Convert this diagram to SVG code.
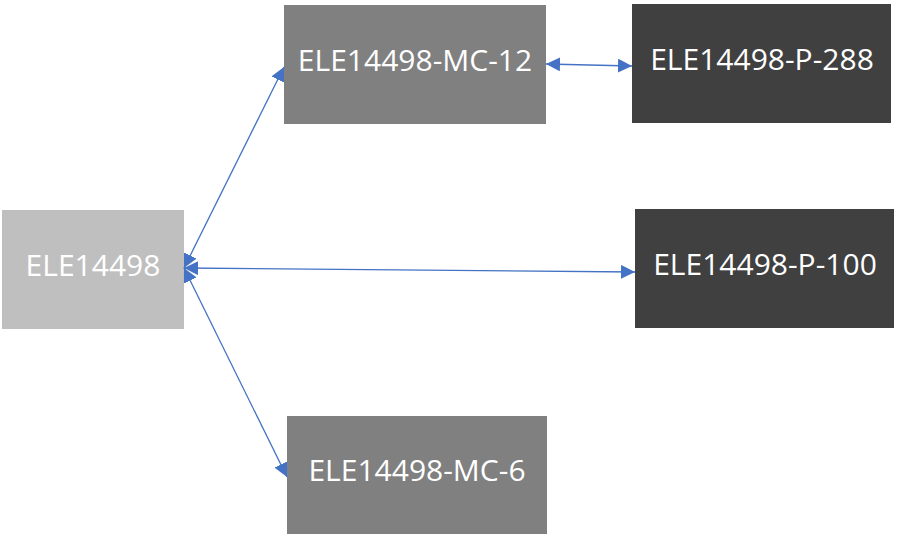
<svg xmlns="http://www.w3.org/2000/svg" width="897" height="535" viewBox="0 0 897 535">
  <style>
    .lbl { font-family: "Open Sans", "Noto Sans", sans-serif; font-size: 30px; fill: #ffffff; text-anchor: middle; dominant-baseline: central; }
    .edge { stroke: #4472c4; stroke-width: 1.3; fill: none; marker-start: url(#tip); marker-end: url(#tip); }
  </style>
  <defs>
    <marker id="tip" viewBox="0 0 10 10" refX="10" refY="5" markerWidth="14" markerHeight="14" markerUnits="userSpaceOnUse" orient="auto-start-reverse">
      <path d="M0,0 L10,5 L0,10 Z" fill="#4472c4"/>
    </marker>
  </defs>
  <rect width="897" height="535" fill="#ffffff"/>

  <g id="n-ele14498">
    <rect x="2" y="210" width="182" height="119" fill="#bfbfbf"/>
    <text class="lbl" x="93" y="264">ELE14498</text>
  </g>
  <g id="n-mc12">
    <rect x="284" y="5" width="262" height="119" fill="#808080"/>
    <text class="lbl" x="415" y="59">ELE14498-MC-12</text>
  </g>
  <g id="n-p288">
    <rect x="632" y="4" width="259" height="119" fill="#404040"/>
    <text class="lbl" x="762" y="58">ELE14498-P-288</text>
  </g>
  <g id="n-p100">
    <rect x="635" y="209" width="259" height="119" fill="#404040"/>
    <text class="lbl" x="765" y="263">ELE14498-P-100</text>
  </g>
  <g id="n-mc6">
    <rect x="287" y="416" width="260" height="118" fill="#808080"/>
    <text class="lbl" x="417" y="469">ELE14498-MC-6</text>
  </g>

  <g id="connectors">
    <line class="edge" x1="184" y1="268" x2="284" y2="67"/>
    <line class="edge" x1="184" y1="268" x2="635" y2="272"/>
    <line class="edge" x1="184" y1="268" x2="287" y2="477"/>
    <line class="edge" x1="546" y1="64" x2="632" y2="66"/>
  </g>
</svg>
